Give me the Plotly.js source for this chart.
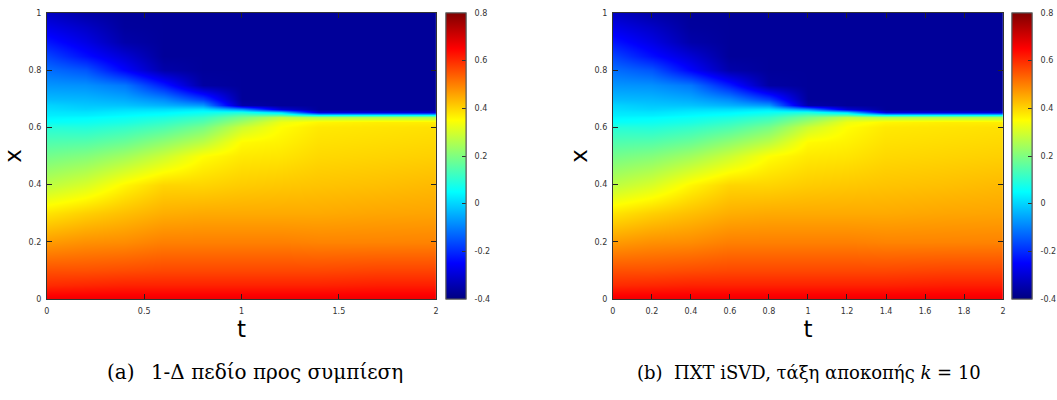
<!DOCTYPE html>
<html>
<head>
<meta charset="utf-8">
<script src="https://cdn.plot.ly/plotly-3.0.1.min.js"></script>
<style>
  html, body { margin: 0; padding: 0; background: #fff; }
  #chart { width: 1057px; height: 400px; }
</style>
</head>
<body>
<div id="chart"></div>
<script>
// time samples (columns) and space samples (rows)
const tGrid = [0, 0.2, 0.4, 0.6, 0.8, 1.0, 1.2, 1.4, 1.7, 2.0];
const xGrid = [0, 0.05, 0.1, 0.2, 0.3, 0.4, 0.5, 0.55, 0.6, 0.62, 0.635, 0.645, 0.655, 0.665, 0.68, 0.7, 0.75, 0.8, 0.85, 0.9, 0.95, 1.0];

// field values, one array per time sample (bottom -> top)
const uT00 = [0.67, 0.60, 0.555, 0.467, 0.38, 0.273, 0.187, 0.144, 0.095, 0.058, 0.04, 0.03, 0.022, 0.012, 0.0, -0.03, -0.075, -0.12, -0.17, -0.225, -0.275, -0.32];
const uT02 = [0.67, 0.605, 0.555, 0.48, 0.405, 0.305, 0.205, 0.15, 0.09, 0.065, 0.045, 0.03, 0.018, 0.0, -0.015, -0.035, -0.08, -0.15, -0.235, -0.28, -0.315, -0.355];
const uT04 = [0.67, 0.61, 0.56, 0.485, 0.425, 0.36, 0.24, 0.175, 0.11, 0.08, 0.06, 0.045, 0.03, 0.01, -0.02, -0.05, -0.11, -0.25, -0.30, -0.35, -0.365, -0.37];
const uT06 = [0.67, 0.61, 0.565, 0.50, 0.445, 0.40, 0.29, 0.22, 0.14, 0.11, 0.08, 0.06, 0.04, 0.01, -0.04, -0.09, -0.22, -0.35, -0.37, -0.37, -0.37, -0.37];
const uT08 = [0.67, 0.61, 0.565, 0.50, 0.45, 0.40, 0.35, 0.27, 0.19, 0.15, 0.115, 0.09, 0.06, 0.02, -0.07, -0.18, -0.36, -0.37, -0.37, -0.37, -0.37, -0.37];
const uT10 = [0.67, 0.61, 0.565, 0.50, 0.45, 0.41, 0.375, 0.355, 0.29, 0.24, 0.19, 0.15, 0.08, -0.08, -0.35, -0.37, -0.37, -0.37, -0.37, -0.37, -0.37, -0.37];
const uT12 = [0.67, 0.61, 0.565, 0.50, 0.45, 0.415, 0.38, 0.365, 0.35, 0.33, 0.27, 0.15, 0.0, -0.3, -0.37, -0.37, -0.37, -0.37, -0.37, -0.37, -0.37, -0.37];
const uT14 = [0.67, 0.61, 0.565, 0.495, 0.45, 0.42, 0.395, 0.385, 0.375, 0.36, 0.25, 0.05, -0.3, -0.37, -0.37, -0.37, -0.37, -0.37, -0.37, -0.37, -0.37, -0.37];
const uT17 = [0.67, 0.615, 0.57, 0.495, 0.455, 0.425, 0.40, 0.39, 0.38, 0.37, 0.25, 0.05, -0.3, -0.37, -0.37, -0.37, -0.37, -0.37, -0.37, -0.37, -0.37, -0.37];
const uT20 = [0.67, 0.615, 0.57, 0.496, 0.457, 0.432, 0.405, 0.395, 0.385, 0.37, 0.25, 0.05, -0.3, -0.37, -0.37, -0.37, -0.37, -0.37, -0.37, -0.37, -0.37, -0.37];

const columns = [uT00, uT02, uT04, uT06, uT08, uT10, uT12, uT14, uT17, uT20];

// colour bar ticks
const cbTicks = [-0.4, -0.2, 0, 0.2, 0.4, 0.6, 0.8];
const cbTickText = ['-0.4', '-0.2', '0', '0.2', '0.4', '0.6', '0.8'];

// captions
const captionA = '(a)\u2002 1-Δ πεδίο προς συμπίεση';
const captionB = '(b)  ΠΧΤ iSVD, τάξη αποκοπής <i>k</i> = 10';

// build z[row=x][col=t]
const z = xGrid.map((_, i) => columns.map(col => col[i]));

const jet = [
  [0, '#000080'], [0.125, '#0000ff'], [0.375, '#00ffff'],
  [0.625, '#ffff00'], [0.875, '#ff0000'], [1, '#800000']
];

const W = 1057, H = 400;
const px = v => v / W;
const py = v => (H - v) / H;

function cb(xLeft, labelled) {
  const base = {
    x: px(xLeft), xanchor: 'left', xpad: 0,
    y: py(13), yanchor: 'top', ypad: 0,
    len: (299 - 13) / H, lenmode: 'fraction',
    thickness: 20, thicknessmode: 'pixels',
    outlinewidth: 1, outlinecolor: '#555',
    tickmode: 'array', tickvals: cbTicks, ticktext: cbTickText,
    tickfont: { family: 'DejaVu Sans', size: 8, color: '#333' }
  };
  if (labelled) {
    base.ticks = 'outside'; base.ticklen = 7; base.tickcolor = 'rgba(0,0,0,0)';
    base.showticklabels = true;
  } else {
    base.ticks = 'inside'; base.ticklen = 4; base.tickcolor = '#333'; base.tickwidth = 1;
    base.showticklabels = false;
  }
  return base;
}

function labelScale(xa, ya, xLeft) {
  return {
    type: 'scatter', mode: 'markers', x: [-10], y: [-10], xaxis: xa, yaxis: ya,
    hoverinfo: 'skip', showlegend: false,
    marker: { color: [0], cmin: -0.4, cmax: 0.8, colorscale: jet, showscale: true,
              opacity: 0, colorbar: cb(xLeft, true) }
  };
}

const traces = [
  labelScale('x', 'y', 447),
  labelScale('x2', 'y2', 1014),
  {
    type: 'heatmap', x: tGrid, y: xGrid, z: z,
    zmin: -0.4, zmax: 0.8, colorscale: jet, zsmooth: 'best',
    xaxis: 'x', yaxis: 'y', colorbar: cb(447, false)
  },
  {
    type: 'heatmap', x: tGrid, y: xGrid, z: z,
    zmin: -0.4, zmax: 0.8, colorscale: jet, zsmooth: 'best',
    xaxis: 'x2', yaxis: 'y2', colorbar: cb(1014, false)
  }
];

const tickFont = { family: 'DejaVu Sans', size: 8, color: '#333' };
const titleFont = { family: 'DejaVu Sans', size: 23, color: '#000' };

function xax(dom, dtick, anchor) {
  return {
    domain: dom, anchor: anchor, range: [0, 2], dtick: dtick, tick0: 0,
    ticks: 'inside', ticklen: 5, tickcolor: '#222', mirror: 'ticks',
    showline: true, linecolor: '#333', linewidth: 1,
    showgrid: false, zeroline: false, tickfont: tickFont,
    ticklabelstandoff: 4, automargin: false,
    title: { text: 't', font: titleFont, standoff: 0 }
  };
}
function yax(anchor) {
  return {
    domain: [py(299), py(13)], anchor: anchor, range: [0, 1], dtick: 0.2, tick0: 0,
    ticks: 'inside', ticklen: 5, tickcolor: '#222', mirror: 'ticks',
    showline: true, linecolor: '#333', linewidth: 1,
    showgrid: false, zeroline: false, tickfont: tickFont,
    ticklabelstandoff: 3, automargin: false,
    title: { text: 'x', font: titleFont, standoff: 0 }
  };
}

const layout = {
  width: W, height: H,
  margin: { l: 0, r: 0, t: 0, b: 0 },
  paper_bgcolor: '#fff', plot_bgcolor: '#fff',
  showlegend: false,
  xaxis: xax([px(47), px(437)], 0.5, 'y'),
  yaxis: yax('x'),
  xaxis2: xax([px(614), px(1005)], 0.2, 'y2'),
  yaxis2: yax('x2'),
  annotations: [
    { text: captionA, x: px(255), y: py(372), xref: 'paper', yref: 'paper',
      xanchor: 'center', yanchor: 'middle', showarrow: false,
      font: { family: 'DejaVu Serif', size: 20, color: '#000' } },
    { text: captionB, x: px(811), y: py(372), xref: 'paper', yref: 'paper',
      xanchor: 'center', yanchor: 'middle', showarrow: false,
      font: { family: 'DejaVu Serif', size: 18, color: '#000' } }
  ]
};

Plotly.newPlot('chart', traces, layout, { staticPlot: true, displayModeBar: false });
</script>
</body>
</html>
